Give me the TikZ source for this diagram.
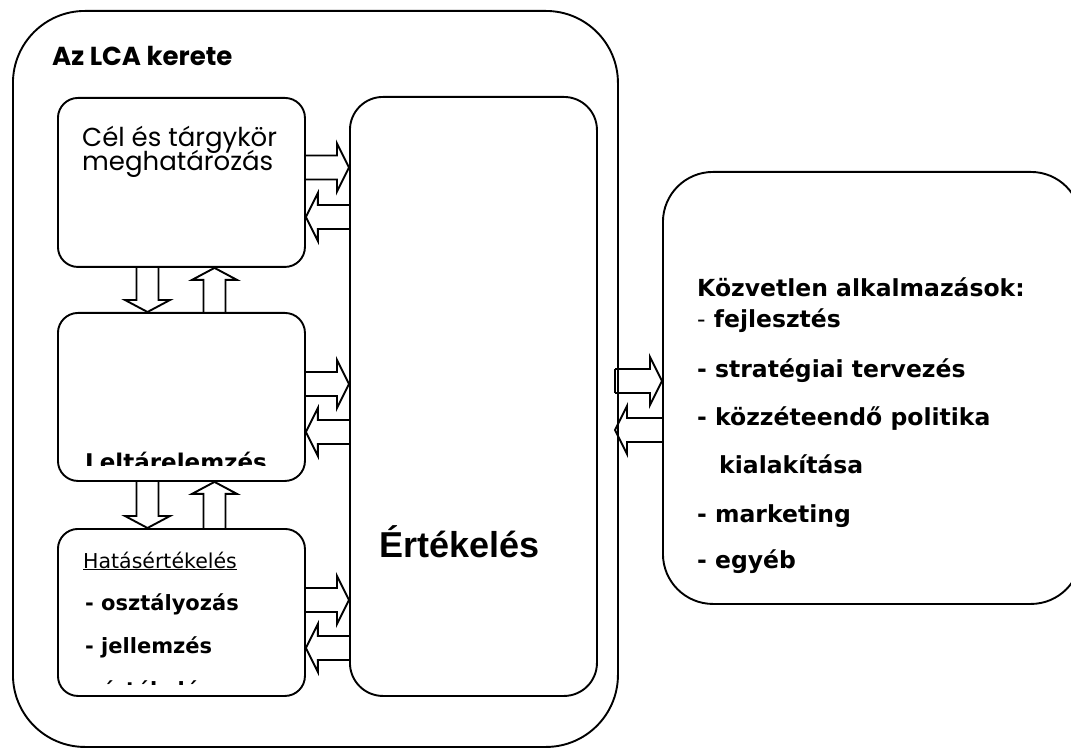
\documentclass[tikz,border=0pt]{standalone}
\usepackage{fontspec}
\setmainfont{DejaVu Sans}
\newfontfamily\arialf{Liberation Sans}
\newfontfamily\gothic{Poppins}
\usetikzlibrary{calc}
\tikzset{
  box/.style={draw, line width=1.9pt, anchor=north west, inner sep=0pt},
  blk/.style={draw, line width=1.9pt, line join=miter},
  txt/.style={anchor=base west, inner sep=0pt},
}
% horizontal block arrow pointing right: tail anchor, tip anchor, centre y (px)
\newcommand\arrR[3]{\draw[blk] let \p1=(#1), \p2=(#2) in
  (\x1,{-(#3-12)*1pt}) -- ({\x2-12pt},{-(#3-12)*1pt}) -- ({\x2-12pt},{-(#3-24)*1pt})
  -- (\x2,{-#3*1pt}) -- ({\x2-12pt},{-(#3+24)*1pt}) -- ({\x2-12pt},{-(#3+12)*1pt})
  -- (\x1,{-(#3+12)*1pt});}
% horizontal block arrow pointing left: tip anchor, tail anchor, centre y
\newcommand\arrL[3]{\draw[blk] let \p1=(#1), \p2=(#2) in
  (\x2,{-(#3-12)*1pt}) -- ({\x1+12pt},{-(#3-12)*1pt}) -- ({\x1+12pt},{-(#3-24)*1pt})
  -- (\x1,{-#3*1pt}) -- ({\x1+12pt},{-(#3+24)*1pt}) -- ({\x1+12pt},{-(#3+12)*1pt})
  -- (\x2,{-(#3+12)*1pt});}
% vertical block arrow pointing down: tail anchor, tip anchor, centre x
\newcommand\arrD[3]{\draw[blk] let \p1=(#1), \p2=(#2) in
  ({(#3-11)*1pt},\y1) -- ({(#3-11)*1pt},{\y2+12pt}) -- ({(#3-22.5)*1pt},{\y2+12pt})
  -- ({#3*1pt},\y2) -- ({(#3+22.5)*1pt},{\y2+12pt}) -- ({(#3+11)*1pt},{\y2+12pt})
  -- ({(#3+11)*1pt},\y1);}
% vertical block arrow pointing up: tail anchor, tip anchor, centre x
\newcommand\arrU[3]{\draw[blk] let \p1=(#1), \p2=(#2) in
  ({(#3-11)*1pt},\y1) -- ({(#3-11)*1pt},{\y2-12pt}) -- ({(#3-22.5)*1pt},{\y2-12pt})
  -- ({#3*1pt},\y2) -- ({(#3+22.5)*1pt},{\y2-12pt}) -- ({(#3+11)*1pt},{\y2-12pt})
  -- ({(#3+11)*1pt},\y1);}
\begin{document}
\begin{tikzpicture}[x=1pt,y=-1pt]
\useasboundingbox (0,0) rectangle (1071,751);
\clip (0,0) rectangle (1071,751);
\fill[white] (0,0) rectangle (1071,751);

% boxes
\node[box, rounded corners=72pt, minimum width=605pt, minimum height=736pt] (frame) at (12,10) {};
\node[box, rounded corners=20pt, minimum width=247pt, minimum height=169pt] (cel) at (57,97) {};
\node[box, rounded corners=20pt, minimum width=247pt, minimum height=168pt] (lel) at (57,312) {};
\node[box, rounded corners=20pt, minimum width=247pt, minimum height=167pt] (hat) at (57,528) {};
\node[box, rounded corners=33pt, minimum width=247pt, minimum height=599pt] (ert) at (349,96) {};
\node[box, rounded corners=50pt, minimum width=418pt, minimum height=432pt] (app) at (662,171) {};

% arrows
\arrR{cel.east}{ert.west}{167.5}
\arrL{cel.east}{ert.west}{217}
\arrR{lel.east}{ert.west}{384}
\arrL{lel.east}{ert.west}{432}
\arrR{hat.east}{ert.west}{600}
\arrL{hat.east}{ert.west}{648}
\arrD{cel.south}{lel.north}{147.5}
\arrU{lel.north}{cel.south}{214.5}
\arrD{lel.south}{hat.north}{147.5}
\arrU{hat.north}{lel.south}{214.5}
\coordinate (fr) at (615,400);
\arrR{fr}{app.west}{381}
\arrL{fr}{app.west}{430}
\draw[line width=1.9pt] (615,369) -- (615,393);

% texts
\node[txt, font=\gothic\bfseries\fontsize{26}{26}\selectfont] (title) at (52,66) {Az LCA kerete};
\node[txt, font=\gothic\fontsize{26}{26}\selectfont] (cel1) at (82,147) {Cél és tárgykör};
\node[txt, font=\gothic\fontsize{26}{26}\selectfont] (cel2) at (82,171) {meghatározás};

\begin{scope}
\clip (57,300) rectangle (304,465);
\node[txt, font=\bfseries\fontsize{23}{23}\selectfont] (lel1) at (85,470) {Leltárelemzés};
\end{scope}

\node[txt, font=\fontsize{20.5}{20.5}\selectfont] (hat0) at (83,568) {\underline{Hatásértékelés}};
\node[txt, font=\bfseries\fontsize{21}{21}\selectfont] (hat1) at (85,610) {- osztályozás};
\node[txt, font=\bfseries\fontsize{21}{21}\selectfont] (hat2) at (85,653) {- jellemzés};
\begin{scope}
\clip (57,600) rectangle (304,684);
\node[txt, font=\bfseries\fontsize{21}{21}\selectfont] (hat3) at (85,697) {- értékelés};
\end{scope}

\node[txt, font=\arialf\bfseries\fontsize{36}{36}\selectfont] (ertl) at (379,557) {Értékelés};

\tikzset{rt/.style={txt, font=\bfseries\fontsize{23.5}{23.5}\selectfont}}
\node[rt] (r0) at (697,297) {Közvetlen alkalmazások:};
\node[rt] (r1) at (697,327) {{\mdseries -} fejlesztés};
\node[rt] (r2) at (697,377) {- stratégiai tervezés};
\node[rt] (r3) at (697,425) {- közzéteendő politika};
\node[rt] (r4) at (719,473) {kialakítása};
\node[rt] (r5) at (697,522) {- marketing};
\node[rt] (r6) at (697,568) {- egyéb};
\end{tikzpicture}
\end{document}
